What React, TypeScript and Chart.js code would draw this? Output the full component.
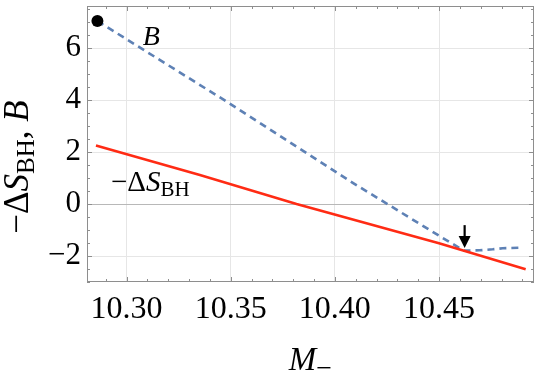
import React, { useEffect, useRef } from "react";
import { Chart, registerables } from "chart.js";

Chart.register(...registerables);

// ---- axis ranges & ticks ----
const xMin = 10.281;
const xMax = 10.4956;
const yMin = -3;
const yMax = 7.63;
const xTickValues = [10.3, 10.35, 10.4, 10.45];
const yTickValues = [-2, 0, 2, 4, 6];
const xMinorStep = 0.01;
const yMinorStep = 0.5;

// ---- series: B (dashed blue) ----
const bX = [10.286, 10.3462, 10.4086, 10.4535, 10.462, 10.4695, 10.4758, 10.4806, 10.4895];
const bY = [7.05, 4.04, 0.82, -1.39, -1.79, -1.78, -1.74, -1.7, -1.68];

// ---- series: -ΔS_BH (red) ----
const sX = [10.2853, 10.3352, 10.3816, 10.45, 10.4916];
const sY = [2.26, 1.12, 0.0, -1.51, -2.51];

// ---- marker dot at start of B ----
const dotX = [10.286];
const dotY = [7.05];

// ---- arrow annotation (data coords) ----
const arrowX = 10.4623;
const arrowYFrom = -0.81;
const arrowYTo = -1.69;

// ---- text labels (data coords of left/baseline) ----
const labelBX = 10.3078;
const labelBY = 6.13;
const labelSX = 10.2925;
const labelSY = 0.5;

const SERIF = "'Liberation Serif', 'Times New Roman', Times, serif";
const BLUE = "#5e81b5";
const RED = "#ff2b14";

type Part = { t: string; font: string; dy?: number };

function drawRich(ctx: CanvasRenderingContext2D, parts: Part[], x: number, y: number, align: "left" | "center") {
  let w = 0;
  for (const p of parts) {
    ctx.font = p.font;
    w += ctx.measureText(p.t).width;
  }
  let cx = align === "center" ? x - w / 2 : x;
  for (const p of parts) {
    ctx.font = p.font;
    ctx.fillText(p.t, cx, y + (p.dy || 0));
    cx += ctx.measureText(p.t).width;
  }
}

const framePlugin = {
  id: "mmaFrame",
  afterDraw(chart: any) {
    const { ctx, chartArea: a, scales } = chart;
    const xs = scales.x;
    const ys = scales.y;
    ctx.save();

    // frame
    ctx.strokeStyle = "#8e8e8e";
    ctx.lineWidth = 1;
    ctx.strokeRect(a.left + 0.5, a.top + 0.5, a.right - a.left - 1, a.bottom - a.top - 1);

    // ticks on all four sides (inward)
    ctx.beginPath();
    const iStart = Math.ceil(xMin / xMinorStep - 1e-9);
    const iEnd = Math.floor(xMax / xMinorStep + 1e-9);
    for (let i = iStart; i <= iEnd; i++) {
      const v = i * xMinorStep;
      const major = xTickValues.some((t) => Math.abs(t - v) < 1e-6);
      const len = major ? 5 : 3;
      const px = Math.round(xs.getPixelForValue(v)) + 0.5;
      ctx.moveTo(px, a.bottom);
      ctx.lineTo(px, a.bottom - len);
      ctx.moveTo(px, a.top);
      ctx.lineTo(px, a.top + len);
    }
    const jStart = Math.ceil(yMin / yMinorStep - 1e-9);
    const jEnd = Math.floor(yMax / yMinorStep + 1e-9);
    for (let j = jStart; j <= jEnd; j++) {
      const v = j * yMinorStep;
      const major = yTickValues.some((t) => Math.abs(t - v) < 1e-6);
      const len = major ? 5 : 3;
      const py = Math.round(ys.getPixelForValue(v)) + 0.5;
      ctx.moveTo(a.left, py);
      ctx.lineTo(a.left + len, py);
      ctx.moveTo(a.right, py);
      ctx.lineTo(a.right - len, py);
    }
    ctx.stroke();

    // arrow
    const ax = xs.getPixelForValue(arrowX);
    const ay0 = ys.getPixelForValue(arrowYFrom);
    const ay1 = ys.getPixelForValue(arrowYTo);
    ctx.strokeStyle = "#000";
    ctx.fillStyle = "#000";
    ctx.lineWidth = 2.2;
    ctx.beginPath();
    ctx.moveTo(ax, ay0);
    ctx.lineTo(ax, ay1 - 8);
    ctx.stroke();
    ctx.beginPath();
    ctx.moveTo(ax - 6, ay1 - 12);
    ctx.lineTo(ax + 6, ay1 - 12);
    ctx.lineTo(ax, ay1);
    ctx.closePath();
    ctx.fill();

    // in-plot labels
    ctx.fillStyle = "#000";
    ctx.textBaseline = "alphabetic";
    drawRich(ctx, [{ t: "B", font: `italic 28px ${SERIF}` }], xs.getPixelForValue(labelBX), ys.getPixelForValue(labelBY), "left");
    drawRich(
      ctx,
      [
        { t: "−", font: `29px ${SERIF}` },
        { t: "Δ", font: `29px ${SERIF}` },
        { t: "S", font: `italic 29px ${SERIF}` },
        { t: "BH", font: `21px ${SERIF}`, dy: 5 },
      ],
      xs.getPixelForValue(labelSX),
      ys.getPixelForValue(labelSY),
      "left"
    );

    // x-axis title
    drawRich(
      ctx,
      [
        { t: "M", font: `italic 33px ${SERIF}` },
        { t: "−", font: `28px ${SERIF}`, dy: 7 },
      ],
      (a.left + a.right) / 2,
      a.bottom + 88,
      "center"
    );

    // y-axis title (rotated)
    ctx.translate(28, (a.top + a.bottom) / 2 + 23);
    ctx.rotate(-Math.PI / 2);
    drawRich(
      ctx,
      [
        { t: "−", font: `35px ${SERIF}` },
        { t: "Δ", font: `35px ${SERIF}` },
        { t: "S", font: `italic 35px ${SERIF}` },
        { t: "BH", font: `25px ${SERIF}`, dy: 6 },
        { t: ", ", font: `35px ${SERIF}` },
        { t: "B", font: `italic 35px ${SERIF}` },
      ],
      0,
      0,
      "center"
    );
    ctx.restore();
  },
};

export default function App() {
  const ref = useRef<HTMLCanvasElement | null>(null);

  useEffect(() => {
    if (!ref.current) return;
    const chart = new Chart(ref.current, {
      type: "line",
      data: {
        datasets: [
          {
            label: "dot",
            data: dotX.map((x, i) => ({ x, y: dotY[i] })),
            showLine: false,
            pointRadius: 6,
            pointBackgroundColor: "#000",
            pointBorderWidth: 0,
            order: 0,
          },
          {
            label: "-ΔS_BH",
            data: sX.map((x, i) => ({ x, y: sY[i] })),
            borderColor: RED,
            borderWidth: 2.6,
            pointRadius: 0,
            tension: 0,
            order: 1,
          },
          {
            label: "B",
            data: bX.map((x, i) => ({ x, y: bY[i] })),
            borderColor: BLUE,
            borderWidth: 2.6,
            borderDash: [7, 5],
            pointRadius: 0,
            tension: 0,
            order: 2,
          },
        ],
      },
      options: {
        animation: false,
        responsive: false,
        devicePixelRatio: 1,
        layout: { padding: { left: 0, top: 4, right: 11, bottom: 0 } },
        plugins: { legend: { display: false }, tooltip: { enabled: false } },
        scales: {
          x: {
            type: "linear",
            min: xMin,
            max: xMax,
            afterBuildTicks: (s: any) => {
              s.ticks = xTickValues.map((v) => ({ value: v }));
            },
            afterFit: (s: any) => {
              s.height = 104;
              s.paddingLeft = 0;
              s.paddingRight = 0;
              s.paddingTop = 0;
              s.paddingBottom = 0;
            },
            grid: { color: "#e6e6e6", lineWidth: 1, drawTicks: false },
            border: { display: false },
            ticks: {
              color: "#000",
              padding: 8,
              font: { family: SERIF, size: 32 },
              maxRotation: 0,
              autoSkip: false,
              callback: (v: any) => Number(v).toFixed(2),
            },
          },
          y: {
            type: "linear",
            min: yMin,
            max: yMax,
            afterBuildTicks: (s: any) => {
              s.ticks = yTickValues.map((v) => ({ value: v }));
            },
            afterFit: (s: any) => {
              s.width = 87;
              s.paddingLeft = 0;
              s.paddingRight = 0;
              s.paddingTop = 0;
              s.paddingBottom = 0;
            },
            grid: {
              color: (c: any) => (c.tick && c.tick.value === 0 ? "#b8b8b8" : "#e6e6e6"),
              lineWidth: 1,
              drawTicks: false,
            },
            border: { display: false },
            ticks: {
              color: "#000",
              padding: 6,
              font: { family: SERIF, size: 31 },
              autoSkip: false,
              callback: (v: any) => String(v).replace("-", "−"),
            },
          },
        },
      },
      plugins: [framePlugin],
    });
    return () => chart.destroy();
  }, []);

  return (
    <div style={{ position: "absolute", left: 0, top: 0, width: 545, height: 386 }}>
      <canvas ref={ref} width={545} height={386} style={{ display: "block" }} />
    </div>
  );
}
